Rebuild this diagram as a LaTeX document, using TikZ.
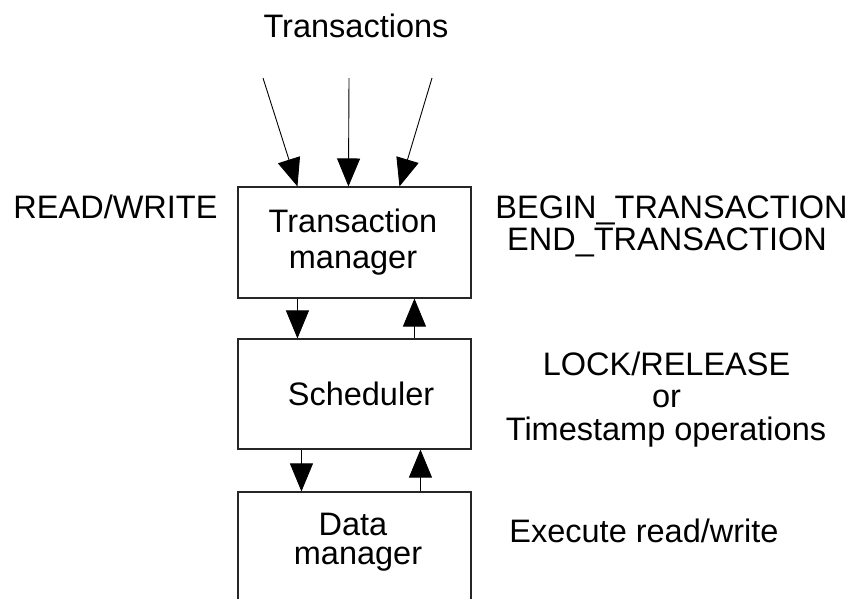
\documentclass[tikz,border=0pt]{standalone}
\usepackage{fontspec}
\setmainfont{Liberation Sans}
\usetikzlibrary{arrows.meta}
\begin{document}
\begin{tikzpicture}[x=1pt,y=-1pt,
  box/.style={draw=black!85, line width=1.1pt, inner sep=0pt, minimum width=233pt},
  txt/.style={font=\fontsize{32.5}{36}\selectfont, inner sep=0pt, anchor=base},
  conn/.style={line width=0.9pt, draw=black, -{Triangle[length=28pt,width=23pt]}}]
\clip (0,0) rectangle (851,598);
\fill[white] (0,0) rectangle (851,598);
% boxes
\node[box, minimum height=111pt] (tm) at (354.5,242.5) {};
\node[box, minimum height=110pt] (sched) at (354.5,394) {};
\node[box, minimum height=130pt] (dm) at (354.5,557) {};
% texts in boxes
\node[txt] (tm1) at (353,232) {Transaction};
\node[txt] (tm2) at (353,268) {manager};
\node[txt] (sc) at (361,405) {Scheduler};
\node[txt] (dm1) at (353,535) {Data};
\node[txt] (dm2) at (358,564) {manager};
% side labels
\node[txt] (trs) at (356,37) {Transactions};
\node[txt] (rw) at (115.5,218) {READ/WRITE};
\node[txt] (bt) at (671.5,218) {BEGIN\_TRANSACTION};
\node[txt] (et) at (667,250) {END\_TRANSACTION};
\node[txt] (lr) at (666.5,375) {LOCK/RELEASE};
\node[txt] (or) at (666.5,407) {or};
\node[txt] (ts) at (666,440) {Timestamp operations};
\node[txt] (ex) at (644,542) {Execute read/write};
% incoming transaction arrows
\coordinate (s1) at (263,78);
\coordinate (s2) at (349,78);
\coordinate (s3) at (432,78);
\draw[conn] (s1) -- ([xshift=60pt]tm.north west);
\draw[conn] (s2) -- ([xshift=111pt]tm.north west);
\draw[conn] (s3) -- ([xshift=162pt]tm.north west);
% between boxes
\draw[conn] ([xshift=60pt]tm.south west) -- ([xshift=60pt]sched.north west);
\draw[conn] ([xshift=177pt]sched.north west) -- ([xshift=177pt]tm.south west);
\draw[conn] ([xshift=64pt]sched.south west) -- ([xshift=64pt]dm.north west);
\draw[conn] ([xshift=183pt]dm.north west) -- ([xshift=183pt]sched.south west);
\end{tikzpicture}
\end{document}
